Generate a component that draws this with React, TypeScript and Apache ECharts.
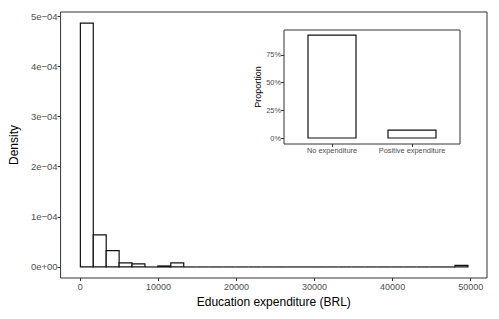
import React, { useEffect, useRef } from "react";
import * as echarts from "echarts";

// Histogram of positive education expenditure (30 bins)
const binStart = 0;
const binWidth = 1655;
const densities = [
  4.86e-4, 0.64e-4, 0.326e-4, 0.08e-4, 0.06e-4, 0, 0.02e-4, 0.08e-4, 0, 0,
  0, 0, 0, 0, 0, 0, 0, 0, 0, 0,
  0, 0, 0, 0, 0, 0, 0, 0, 0, 0.03e-4,
];
const xTicks = [0, 10000, 20000, 30000, 40000, 50000];
const xTickLabels = ["0", "10000", "20000", "30000", "40000", "50000"];
const yTicks = [0, 1e-4, 2e-4, 3e-4, 4e-4, 5e-4];
const yTickLabels = ["0e+00", "1e\u221204", "2e\u221204", "3e\u221204", "4e\u221204", "5e\u221204"];

// Inset: proportion of households
const insetCategories = ["No expenditure", "Positive expenditure"];
const insetValues = [92.8, 7.2];
const insetTicks = [0, 25, 50, 75];
const insetTickLabels = ["0%", "25%", "50%", "75%"];

const FONT = "Liberation Sans, Arial, Helvetica, sans-serif";
const AX = "#333333";
const TXT = "#4D4D4D";

function lookup(ticks: number[], labels: string[], v: number) {
  let best = 0;
  for (let i = 0; i < ticks.length; i++) {
    if (Math.abs(ticks[i] - v) < Math.abs(ticks[best] - v)) best = i;
  }
  return labels[best];
}

export default function App() {
  const ref = useRef<HTMLDivElement>(null);
  useEffect(() => {
    if (!ref.current) return;
    const chart = echarts.init(ref.current, undefined, { renderer: "svg" });
    const histData = densities.map((d, i) => [
      binStart + i * binWidth,
      binStart + (i + 1) * binWidth,
      d,
    ]);
    const insetData = insetValues.map((v, i) => [i + 1, v]);
    const axisLine = { show: false, onZero: false };
    const tick = (vals: number[]) => ({
      show: true, inside: false, customValues: vals, length: 3,
      lineStyle: { color: AX, width: 1 },
    });
    const option: any = {
      animation: false,
      backgroundColor: "#fff",
      textStyle: { fontFamily: FONT },
      grid: [
        {
          left: 56, top: 12, width: 431, height: 266,
          show: true, borderColor: AX, borderWidth: 1, backgroundColor: "#fff",
        },
        {
          left: 284, top: 30, width: 176, height: 114,
          show: true, borderColor: AX, borderWidth: 1, backgroundColor: "#fff",
        },
      ],
      xAxis: [
        {
          type: "value", gridIndex: 0, min: -2535, max: 52090, position: "bottom",
          axisLine, splitLine: { show: false },
          axisTick: tick(xTicks),
          axisLabel: {
            customValues: xTicks, color: TXT, fontSize: 9, margin: 4, fontFamily: FONT,
            formatter: (v: number) => lookup(xTicks, xTickLabels, v),
          },
          name: "Education expenditure (BRL)", nameLocation: "middle", nameGap: 16,
          nameTextStyle: { color: "#000", fontSize: 12, fontFamily: FONT },
        },
        {
          type: "value", gridIndex: 1, min: 0.4, max: 2.6, position: "bottom",
          axisLine, splitLine: { show: false },
          axisTick: tick([1, 2]),
          axisLabel: {
            customValues: [1, 2], color: TXT, fontSize: 7.4, margin: 3, fontFamily: FONT,
            formatter: (v: number) => insetCategories[Math.round(v) - 1],
          },
        },
      ],
      yAxis: [
        {
          type: "value", gridIndex: 0, min: -0.22e-4, max: 5.08e-4, position: "left",
          axisLine, splitLine: { show: false },
          axisTick: tick(yTicks),
          axisLabel: {
            customValues: yTicks, color: TXT, fontSize: 9.5, margin: 3, fontFamily: FONT,
            formatter: (v: number) => lookup(yTicks, yTickLabels, v),
          },
          name: "Density", nameLocation: "middle", nameGap: 35,
          nameTextStyle: { color: "#000", fontSize: 12, fontFamily: FONT },
        },
        {
          type: "value", gridIndex: 1, min: -5.4, max: 97.5, position: "left",
          axisLine, splitLine: { show: false },
          axisTick: tick(insetTicks),
          axisLabel: {
            customValues: insetTicks, color: TXT, fontSize: 7.4, margin: 3, fontFamily: FONT,
            formatter: (v: number) => lookup(insetTicks, insetTickLabels, v),
          },
          name: "Proportion", nameLocation: "middle", nameGap: 21,
          nameTextStyle: { color: "#000", fontSize: 9, fontFamily: FONT },
        },
      ],
      series: [
        {
          type: "custom", xAxisIndex: 0, yAxisIndex: 0,
          data: histData,
          encode: { x: [0, 1], y: 2 },
          renderItem: (params: any, api: any) => {
            const x0 = api.value(0), x1 = api.value(1), y = api.value(2);
            const p0 = api.coord([x0, 0]);
            const p1 = api.coord([x1, y]);
            if (y === 0) {
              return {
                type: "line",
                shape: { x1: p0[0], y1: p0[1], x2: p1[0], y2: p0[1] },
                style: { stroke: "#111", lineWidth: 1.2 },
              };
            }
            return {
              type: "rect",
              shape: { x: p0[0], y: p1[1], width: p1[0] - p0[0], height: p0[1] - p1[1] },
              style: { fill: "#fff", stroke: "#111", lineWidth: 1.2 },
            };
          },
        },
        {
          type: "custom", xAxisIndex: 1, yAxisIndex: 1,
          data: insetData,
          encode: { x: 0, y: 1 },
          renderItem: (params: any, api: any) => {
            const c = api.value(0), v = api.value(1);
            const p0 = api.coord([c - 0.3, 0]);
            const p1 = api.coord([c + 0.3, v]);
            return {
              type: "rect",
              shape: { x: p0[0], y: p1[1], width: p1[0] - p0[0], height: p0[1] - p1[1] },
              style: { fill: "#fff", stroke: "#111", lineWidth: 1.2 },
            };
          },
        },
      ],
    };
    chart.setOption(option);
    return () => chart.dispose();
  }, []);
  return (
    <div
      ref={ref}
      style={{ position: "fixed", left: 0, top: 0, width: 499, height: 319 }}
    />
  );
}
